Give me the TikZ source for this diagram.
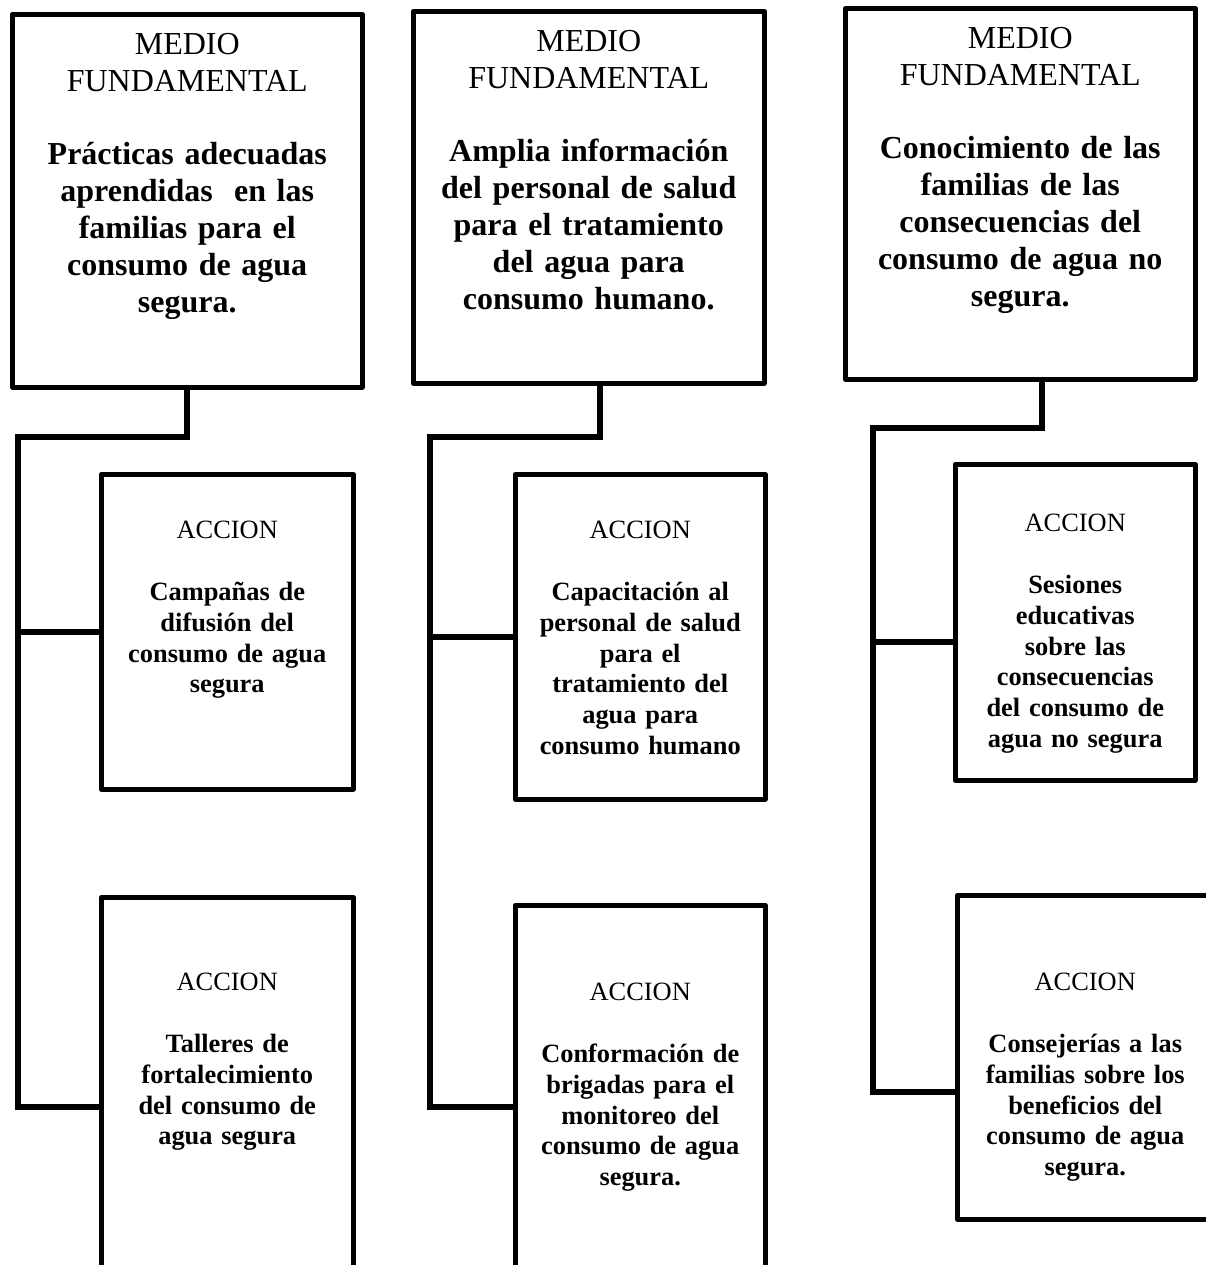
\documentclass[tikz,border=0pt]{standalone}
\usepackage{fontspec}
\setmainfont{Liberation Serif}
\usetikzlibrary{positioning}

\begin{document}
\begin{tikzpicture}[x=0.5pt,y=-0.5pt,
    box/.style={draw, line width=2.25pt, line join=round, inner sep=0, anchor=north west},
    mftext/.style={inner sep=0, text width=170pt, align=center, font=\fontsize{16}{18.4}\selectfont},
    actext/.style={inner sep=0, text width=115pt, align=center, font=\fontsize{13.2}{15.4}\selectfont},
    link/.style={line width=3pt}]
    \useasboundingbox (0,0) rectangle (1206,1265);
    \clip (0,0) rectangle (1206,1265);

    \node [box, minimum width=175pt, minimum height=186.5pt] (mf1) at (10,12) {};
    \node [box, minimum width=175.5pt, minimum height=186pt] (mf2) at (411,9) {};
    \node [box, minimum width=175pt, minimum height=185.5pt] (mf3) at (843,6) {};

    \node [box, minimum width=126pt, minimum height=157.5pt] (acc1a) at (99,472) {};
    \node [box, minimum width=126pt, minimum height=210pt] (acc1b) at (99,895) {};
    \node [box, minimum width=125pt, minimum height=162.5pt] (acc2a) at (513,472) {};
    \node [box, minimum width=125pt, minimum height=202pt] (acc2b) at (513,903) {};
    \node [box, minimum width=120pt, minimum height=158pt] (acc3a) at (953,462) {};
    \node [box, minimum width=128pt, minimum height=162pt] (acc3b) at (955,893) {};

    \node [mftext, below=10.5pt of mf1.north] (mf1t) {MEDIO\\FUNDAMENTAL\\[18.4pt]\bfseries
      Prácticas adecuadas\\aprendidas\ \ en las\\familias para el\\consumo de agua\\segura.};
    \node [mftext, below=10.5pt of mf2.north] (mf2t) {MEDIO\\FUNDAMENTAL\\[18.4pt]\bfseries
      Amplia información\\del personal de salud\\para el tratamiento\\del agua para\\consumo humano.};
    \node [mftext, below=10.5pt of mf3.north] (mf3t) {MEDIO\\FUNDAMENTAL\\[18.4pt]\bfseries
      Conocimiento de las\\familias de las\\consecuencias del\\consumo de agua no\\segura.};

    \node [actext, below=24.5pt of acc1a.north] (acc1at) {ACCION\\[15.4pt]\bfseries
      Campañas de\\difusión del\\consumo de agua\\segura};
    \node [actext, below=39pt of acc1b.north] (acc1bt) {ACCION\\[15.4pt]\bfseries
      Talleres de\\fortalecimiento\\del consumo de\\agua segura};
    \node [actext, below=24.5pt of acc2a.north] (acc2at) {ACCION\\[15.4pt]\bfseries
      Capacitación al\\personal de salud\\para el\\tratamiento del\\agua para\\consumo humano};
    \node [actext, below=40pt of acc2b.north] (acc2bt) {ACCION\\[15.4pt]\bfseries
      Conformación de\\brigadas para el\\monitoreo del\\consumo de agua\\segura.};
    \node [actext, below=26pt of acc3a.north] (acc3at) {ACCION\\[15.4pt]\bfseries
      Sesiones\\educativas\\sobre las\\consecuencias\\del consumo de\\agua no segura};
    \node [actext, below=40pt of acc3b.north] (acc3bt) {ACCION\\[15.4pt]\bfseries
      Consejerías a las\\familias sobre los\\beneficios del\\consumo de agua\\segura.};

    \coordinate (e1) at (187,437);
    \coordinate (k1) at (18,437);
    \coordinate (e2) at (600,437);
    \coordinate (k2) at (430,437);
    \coordinate (e3) at (1042,428);
    \coordinate (k3) at (873,428);
    \coordinate (p3a) at ([yshift=-10pt]acc3a.west);
    \coordinate (p3b) at ([yshift=-17.5pt]acc3b.west);

    \draw [link] (mf1.south -| e1) -- (e1) -- (k1) -- (k1 |- acc1b.west) -- (acc1b.west);
    \draw [link] (k1 |- acc1a.west) -- (acc1a.west);
    \draw [link] (mf2.south -| e2) -- (e2) -- (k2) -- (k2 |- acc2b.west) -- (acc2b.west);
    \draw [link] (k2 |- acc2a.west) -- (acc2a.west);
    \draw [link] (mf3.south -| e3) -- (e3) -- (k3) -- (k3 |- p3b) -- (p3b);
    \draw [link] (k3 |- p3a) -- (p3a);
\end{tikzpicture}
\end{document}
